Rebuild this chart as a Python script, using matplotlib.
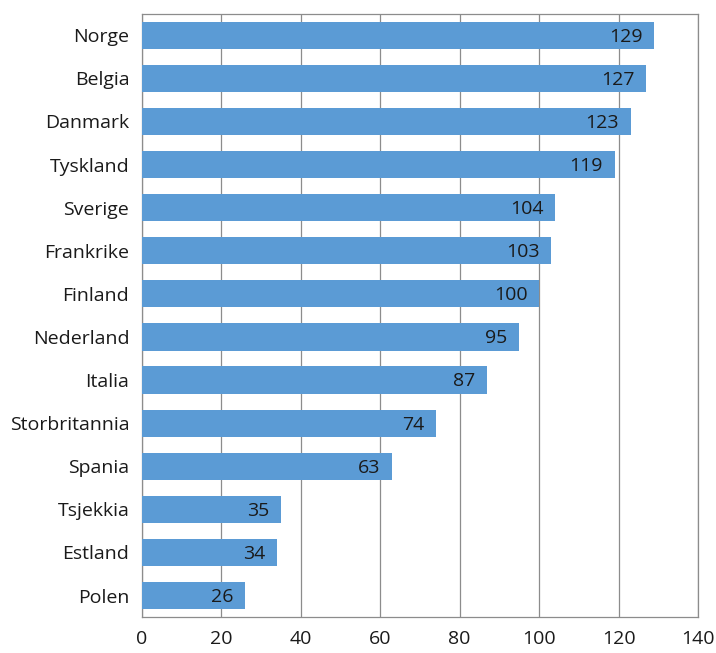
import matplotlib
matplotlib.use("Agg")
import matplotlib.pyplot as plt

countries = ["Norge", "Belgia", "Danmark", "Tyskland", "Sverige", "Frankrike",
             "Finland", "Nederland", "Italia", "Storbritannia", "Spania",
             "Tsjekkia", "Estland", "Polen"]
values = [129, 127, 123, 119, 104, 103, 100, 95, 87, 74, 63, 35, 34, 26]
xticks = [0, 20, 40, 60, 80, 100, 120, 140]

plt.rcParams["font.family"] = ["Open Sans", "DejaVu Sans"]

fig = plt.figure(figsize=(7.16, 6.53), dpi=100)
ax = fig.add_axes([0.198, 0.055, 0.777, 0.924])

pos = list(range(len(countries)))[::-1]
ax.barh(pos, values, height=0.63, color="#5b9bd5", zorder=3)

# value labels inside the end of each bar
for p, v in zip(pos, values):
    ax.annotate(str(v), xy=(v, p), xytext=(-8.5, -1), textcoords="offset points",
                ha="right", va="center", fontsize=14, color="#1a1a1a", zorder=4)

ax.set_xlim(0, 140)
ax.set_ylim(-0.5, len(countries) - 0.5)
ax.set_xticks(xticks)
ax.set_yticks(pos)
ax.set_yticklabels(countries)
ax.tick_params(axis="both", length=0, labelsize=14, colors="#1a1a1a")
ax.tick_params(axis="x", pad=9)
ax.tick_params(axis="y", pad=9)
ax.xaxis.grid(True, color="#8c8c8c", linewidth=0.9, zorder=0)
for s in ax.spines.values():
    s.set_color("#8c8c8c")
    s.set_linewidth(0.9)

fig.savefig("out.png", dpi=100)
